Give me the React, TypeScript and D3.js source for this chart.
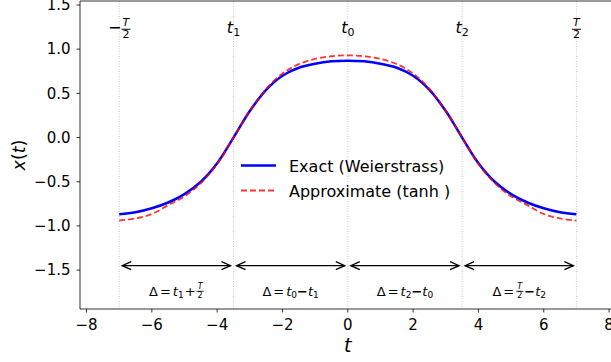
import React, { useEffect, useRef } from "react";
import * as d3 from "d3";

const W = 611;
const H = 362;

// sample times and values
const tSamples = [-7, -6.5, -6, -5.5, -5, -4.5, -4, -3.5, -3, -2.5, -2, -1.5, -1, -0.5, 0, 0.5, 1, 1.5, 2, 2.5, 3, 3.5, 4, 4.5, 5, 5.5, 6, 6.5, 7];
const exactValues = [-0.867, -0.845, -0.8, -0.735, -0.64, -0.5, -0.29, 0.0, 0.3, 0.54, 0.7, 0.79, 0.835, 0.862, 0.87, 0.862, 0.835, 0.79, 0.7, 0.54, 0.3, 0.0, -0.29, -0.5, -0.64, -0.735, -0.8, -0.845, -0.867];
const approxValues = [-0.94, -0.915, -0.865, -0.765, -0.665, -0.515, -0.3, 0.0, 0.305, 0.55, 0.725, 0.83, 0.89, 0.92, 0.93, 0.92, 0.89, 0.83, 0.725, 0.55, 0.305, 0.0, -0.3, -0.515, -0.665, -0.765, -0.865, -0.915, -0.94];

const xTicks = [-8, -6, -4, -2, 0, 2, 4, 6, 8];
const yTicks = [-1.5, -1.0, -0.5, 0.0, 0.5, 1.0, 1.5];
const markerTimes = [-7, -3.5, 0, 3.5, 7];
const topLabelY = 1.25;
const arrowY = -1.45;
const deltaLabelY = -1.75;
const legendLabels = ["Exact (Weierstrass)", "Approximate (tanh )"];

type Piece =
  | { t: string; size: number; italic?: boolean; dy?: number; gap?: number; weight?: string }
  | { num: string; den: string; size: number; gap?: number; barDy: number };

const topLabels: Piece[][] = [
  [{ t: "\u2212", size: 16 }, { num: "T", den: "2", size: 11, barDy: -4, gap: 0 }],
  [{ t: "t", size: 16, italic: true }, { t: "1", size: 11, dy: 3 }],
  [{ t: "t", size: 16, italic: true }, { t: "0", size: 11, dy: 3 }],
  [{ t: "t", size: 16, italic: true }, { t: "2", size: 11, dy: 3 }],
  [{ num: "T", den: "2", size: 11, barDy: -4 }],
];

const deltaLabels: Piece[][] = [
  [
    { t: "\u0394", size: 13 },
    { t: "=", size: 13, gap: 2 },
    { t: "t", size: 13, italic: true, gap: 2 },
    { t: "1", size: 9, dy: 2.5 },
    { t: "+", size: 13, gap: 1 },
    { num: "T", den: "2", size: 8, barDy: -4.5, gap: 1 },
  ],
  [
    { t: "\u0394", size: 13 },
    { t: "=", size: 13, gap: 2 },
    { t: "t", size: 13, italic: true, gap: 2 },
    { t: "0", size: 9, dy: 2.5 },
    { t: "\u2212", size: 13, weight: "bold" },
    { t: "t", size: 13, italic: true },
    { t: "1", size: 9, dy: 2.5 },
  ],
  [
    { t: "\u0394", size: 13 },
    { t: "=", size: 13, gap: 2 },
    { t: "t", size: 13, italic: true, gap: 2 },
    { t: "2", size: 9, dy: 2.5 },
    { t: "\u2212", size: 13, weight: "bold" },
    { t: "t", size: 13, italic: true },
    { t: "0", size: 9, dy: 2.5 },
  ],
  [
    { t: "\u0394", size: 13 },
    { t: "=", size: 13, gap: 2 },
    { num: "T", den: "2", size: 8, barDy: -4.5, gap: 2 },
    { t: "\u2212", size: 13, weight: "bold", gap: 1 },
    { t: "t", size: 13, italic: true },
    { t: "2", size: 9, dy: 2.5 },
  ],
];

const FONT = "'DejaVu Sans', sans-serif";

function drawMath(parent: any, pieces: Piece[], cx: number, baseline: number) {
  const g = parent.append("g").attr("font-family", FONT).attr("fill", "black");
  const items: any[] = [];
  pieces.forEach((p) => {
    if ("t" in p) {
      const el = g
        .append("text")
        .attr("font-size", p.size)
        .attr("font-style", p.italic ? "italic" : "normal")
        .attr("font-weight", p.weight || "normal")
        .attr("y", baseline + (p.dy || 0))
        .text(p.t);
      const w = (el.node() as SVGTextElement).getComputedTextLength();
      items.push({ p, el, w });
    } else {
      const barY = baseline + p.barDy;
      const num = g
        .append("text")
        .attr("font-size", p.size)
        .attr("font-style", "italic")
        .attr("text-anchor", "middle")
        .attr("y", barY - p.size * 0.3)
        .text(p.num);
      const den = g
        .append("text")
        .attr("font-size", p.size)
        .attr("text-anchor", "middle")
        .attr("y", barY + p.size * 0.82)
        .text(p.den);
      const w =
        Math.max(
          (num.node() as SVGTextElement).getComputedTextLength(),
          (den.node() as SVGTextElement).getComputedTextLength()
        ) + 2;
      const bar = g
        .append("line")
        .attr("y1", barY)
        .attr("y2", barY)
        .attr("stroke", "black")
        .attr("stroke-width", p.size > 9 ? 1 : 0.8);
      items.push({ p, num, den, bar, w });
    }
  });
  const total = items.reduce((s, it) => s + it.w + (it.p.gap || 0), 0);
  let xx = cx - total / 2;
  items.forEach((it) => {
    xx += it.p.gap || 0;
    if (it.el) {
      it.el.attr("x", xx);
    } else {
      it.num.attr("x", xx + it.w / 2);
      it.den.attr("x", xx + it.w / 2);
      it.bar.attr("x1", xx).attr("x2", xx + it.w);
    }
    xx += it.w;
  });
}

export default function App() {
  const ref = useRef<SVGSVGElement>(null);

  useEffect(() => {
    const svg = d3.select(ref.current);
    svg.selectAll("*").remove();

    const x = d3.scaleLinear().domain([-8.2, 8.2]).range([80, 615.6]);
    const y = d3.scaleLinear().domain([-1.94, 1.545]).range([309, 1]);
    const [x0, x1] = x.range();
    const [yb, yt] = y.range();

    svg.append("rect").attr("width", W).attr("height", H).attr("fill", "white");

    // vertical dotted marker lines
    svg
      .append("g")
      .selectAll("line")
      .data(markerTimes)
      .join("line")
      .attr("x1", (d) => x(d))
      .attr("x2", (d) => x(d))
      .attr("y1", yt)
      .attr("y2", yb)
      .attr("stroke", "#bdbdbd")
      .attr("stroke-width", 0.8)
      .attr("stroke-dasharray", "1,1.5");

    const pts = tSamples.map((t, i) => ({ t, e: exactValues[i], a: approxValues[i] }));
    const lineE = d3
      .line<any>()
      .x((d) => x(d.t))
      .y((d) => y(d.e))
      .curve(d3.curveCatmullRom.alpha(0.5));
    const lineA = d3
      .line<any>()
      .x((d) => x(d.t))
      .y((d) => y(d.a))
      .curve(d3.curveCatmullRom.alpha(0.5));

    svg
      .append("path")
      .attr("d", lineE(pts))
      .attr("fill", "none")
      .attr("stroke", "#0000ff")
      .attr("stroke-width", 2.5);
    svg
      .append("path")
      .attr("d", lineA(pts))
      .attr("fill", "none")
      .attr("stroke", "#ff0000")
      .attr("stroke-opacity", 0.8)
      .attr("stroke-width", 1.8)
      .attr("stroke-dasharray", "6,3");

    // top labels
    markerTimes.forEach((t, i) => {
      drawMath(svg, topLabels[i], x(t), y(topLabelY) + 6.2);
    });

    // arrows
    const ag = svg.append("g");
    for (let i = 0; i < markerTimes.length - 1; i++) {
      const xa = x(markerTimes[i]) + 3;
      const xb = x(markerTimes[i + 1]) - 3;
      const yy = y(arrowY);
      ag.append("line")
        .attr("x1", xa)
        .attr("x2", xb)
        .attr("y1", yy)
        .attr("y2", yy)
        .attr("stroke", "black")
        .attr("stroke-width", 1.3);
      ag.append("path")
        .attr("d", `M${xa + 9},${yy - 4}L${xa},${yy}L${xa + 9},${yy + 4}`)
        .attr("fill", "none")
        .attr("stroke", "black")
        .attr("stroke-width", 1.3);
      ag.append("path")
        .attr("d", `M${xb - 9},${yy - 4}L${xb},${yy}L${xb - 9},${yy + 4}`)
        .attr("fill", "none")
        .attr("stroke", "black")
        .attr("stroke-width", 1.3);
      drawMath(svg, deltaLabels[i], (x(markerTimes[i]) + x(markerTimes[i + 1])) / 2, y(deltaLabelY) + 3.6);
    }

    // spines
    svg
      .append("path")
      .attr("d", `M${x0},${yt}V${yb}H${x1}V${yt}Z`)
      .attr("fill", "none")
      .attr("stroke", "black")
      .attr("stroke-width", 0.8);

    // ticks
    const fmtX = (v: number) => (v < 0 ? "\u2212" + Math.abs(v) : String(v));
    const fmtY = (v: number) => (v < 0 ? "\u2212" + Math.abs(v).toFixed(1) : v.toFixed(1));
    const xg = svg.append("g").attr("font-family", FONT).attr("font-size", 15);
    xTicks.forEach((v) => {
      xg.append("line")
        .attr("x1", x(v))
        .attr("x2", x(v))
        .attr("y1", yb)
        .attr("y2", yb + 3.5)
        .attr("stroke", "black")
        .attr("stroke-width", 0.8);
      xg.append("text")
        .attr("x", x(v))
        .attr("y", yb + 21)
        .attr("text-anchor", "middle")
        .text(fmtX(v));
    });
    const yg = svg.append("g").attr("font-family", FONT).attr("font-size", 15);
    yTicks.forEach((v) => {
      yg.append("line")
        .attr("x1", x0 - 3.5)
        .attr("x2", x0)
        .attr("y1", y(v))
        .attr("y2", y(v))
        .attr("stroke", "black")
        .attr("stroke-width", 0.8);
      yg.append("text")
        .attr("x", x0 - 9.5)
        .attr("y", y(v) + 5.3)
        .attr("text-anchor", "end")
        .text(fmtY(v));
    });

    // axis labels
    svg
      .append("text")
      .attr("x", (x0 + x1) / 2)
      .attr("y", 352)
      .attr("font-family", FONT)
      .attr("font-style", "italic")
      .attr("font-size", 19)
      .attr("text-anchor", "middle")
      .text("t");
    const yl = svg
      .append("text")
      .attr("transform", `translate(25,${(yt + yb) / 2}) rotate(-90)`)
      .attr("font-family", FONT)
      .attr("font-size", 17.5)
      .attr("text-anchor", "middle");
    yl.append("tspan").attr("font-style", "italic").text("x");
    yl.append("tspan").text("(");
    yl.append("tspan").attr("font-style", "italic").text("t");
    yl.append("tspan").text(")");

    // legend
    const lg = svg.append("g").attr("font-family", FONT).attr("font-size", 16);
    lg.append("line")
      .attr("x1", 241)
      .attr("x2", 276)
      .attr("y1", 165.5)
      .attr("y2", 165.5)
      .attr("stroke", "#0000ff")
      .attr("stroke-width", 2.5);
    lg.append("text").attr("x", 289).attr("y", 172).text(legendLabels[0]);
    lg.append("line")
      .attr("x1", 241)
      .attr("x2", 276)
      .attr("y1", 190.5)
      .attr("y2", 190.5)
      .attr("stroke", "#ff0000")
      .attr("stroke-opacity", 0.8)
      .attr("stroke-width", 1.8)
      .attr("stroke-dasharray", "6,3");
    lg.append("text").attr("x", 289).attr("y", 196.5).text(legendLabels[1]);
  }, []);

  return (
    <svg
      ref={ref}
      width={W}
      height={H}
      style={{ position: "absolute", left: 0, top: 0, display: "block" }}
    />
  );
}
